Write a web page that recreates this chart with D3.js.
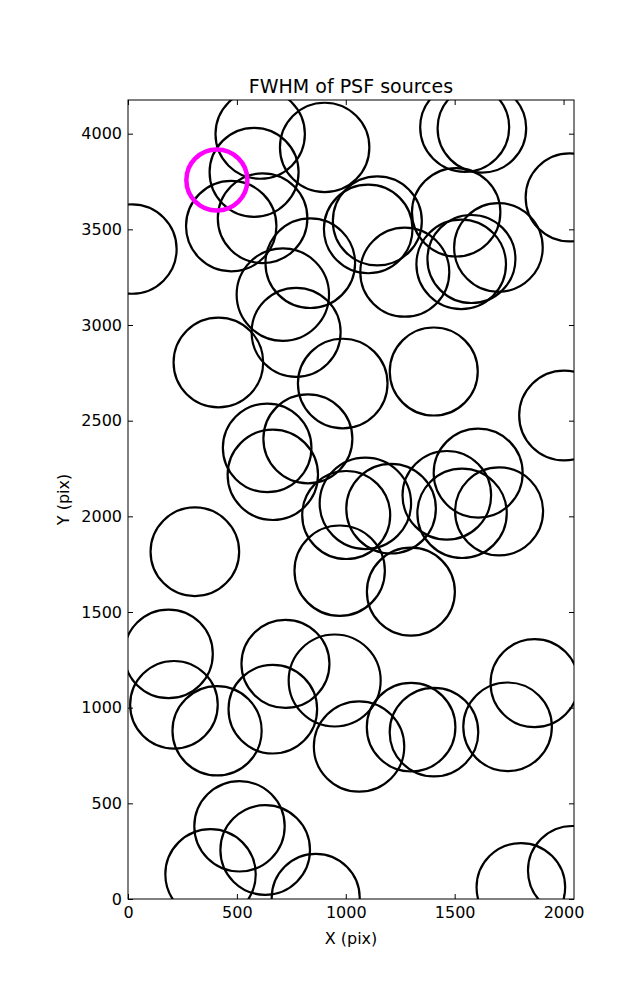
<!DOCTYPE html>
<html>
<head>
<meta charset="utf-8">
<script src="https://cdn.jsdelivr.net/npm/d3@7"></script>
<style>
  html, body { margin: 0; padding: 0; background: #fff; }
  svg { display: block; font-family: "DejaVu Sans", sans-serif; }
</style>
</head>
<body>
<svg id="chart" width="637" height="1000"></svg>
<script>
// Source positions (detector pixels) and FWHM values
const srcX = [607, 579, 903, 1546, 1625, 2028, 18, 474, 618, 1103, 1145, 1507, 1701, 1577, 1530, 1271, 837, 711, 772, 415, 986, 1404, 2002,
  639, 665, 826, 1090, 1002, 1208, 1464, 1608, 1534, 1704, 972, 1299, 307, 186, 723, 211, 409, 665, 949, 1061, 1300, 1405, 1743, 1867,
  512, 630, 379, 862, 1804, 2041];
const srcY = [3998, 3798, 3928, 4033, 4028, 3667, 3397, 3517, 3558, 3502, 3544, 3589, 3405, 3345, 3317, 3276, 3323, 3159, 2962, 2804, 2694, 2757, 2527,
  2358, 2217, 2405, 2068, 2007, 2040, 2110, 2226, 2016, 2026, 1716, 1606, 1815, 1281, 1229, 1015, 879, 992, 1142, 797, 898, 872, 900, 1128,
  380, 256, 129, 6, 61, 149];
const srcFWHM = [4.47, 4.45, 4.47, 4.45, 4.43, 4.40, 4.47, 4.52, 4.48, 4.43, 4.45, 4.42, 4.43, 4.40, 4.48, 4.45, 4.48, 4.62, 4.45, 4.48, 4.48, 4.40, 4.48,
  4.43, 4.52, 4.45, 4.57, 4.40, 4.48, 4.43, 4.45, 4.47, 4.40, 4.52, 4.40, 4.43, 4.43, 4.40, 4.38, 4.46, 4.43, 4.60, 4.52, 4.43, 4.43, 4.43, 4.40,
  4.52, 4.48, 4.52, 4.40, 4.43, 4.45];
// Highlighted source
const hiX = [408];
const hiY = [3758];
const hiFWHM = [3.05];

const xTicks = [0, 500, 1000, 1500, 2000];
const yTicks = [0, 500, 1000, 1500, 2000, 2500, 3000, 3500, 4000];
const titleText = "FWHM of PSF sources";
const xLabel = "X (pix)";
const yLabel = "Y (pix)";

const sources = srcX.map((d, i) => ({ x: d, y: srcY[i], f: srcFWHM[i] }));
const highlight = hiX.map((d, i) => ({ x: d, y: hiY[i], f: hiFWHM[i] }));

const L = 128, R = 574, T = 100, B = 899;
const x = d3.scaleLinear().domain([0, 2048]).range([L, R]);
const y = d3.scaleLinear().domain([0, 4176]).range([B, T]);
const r = d3.scaleLinear().domain([0, 10]).range([0, 100]);

const svg = d3.select("#chart");

svg.append("defs").append("clipPath").attr("id", "clip")
  .append("rect").attr("x", L).attr("y", T).attr("width", R - L).attr("height", B - T);

const g = svg.append("g").attr("clip-path", "url(#clip)");

g.selectAll("circle.src").data(sources).join("circle")
  .attr("class", "src")
  .attr("cx", d => x(d.x)).attr("cy", d => y(d.y)).attr("r", d => r(d.f))
  .attr("fill", "none").attr("stroke", "#000").attr("stroke-width", 2.2);

g.selectAll("circle.hi").data(highlight).join("circle")
  .attr("class", "hi")
  .attr("cx", d => x(d.x)).attr("cy", d => y(d.y)).attr("r", d => r(d.f))
  .attr("fill", "none").attr("stroke", "#ff00ff").attr("stroke-width", 4.5);

// Axes (inward ticks on all sides)
const tickLen = 5;
const fs = 16;
const axB = svg.append("g").attr("transform", `translate(0,${B})`)
  .call(d3.axisBottom(x).tickValues(xTicks).tickSize(-tickLen).tickPadding(8).tickFormat(d3.format("d")));
const axT = svg.append("g").attr("transform", `translate(0,${T})`)
  .call(d3.axisTop(x).tickValues(xTicks).tickSize(-tickLen).tickFormat(""));
const axL = svg.append("g").attr("transform", `translate(${L},0)`)
  .call(d3.axisLeft(y).tickValues(yTicks).tickSize(-tickLen).tickPadding(6).tickFormat(d3.format("d")));
const axR = svg.append("g").attr("transform", `translate(${R},0)`)
  .call(d3.axisRight(y).tickValues(yTicks).tickSize(-tickLen).tickFormat(""));

[axB, axT, axL, axR].forEach(a => {
  a.select(".domain").remove();
  a.selectAll(".tick line").attr("stroke", "#000").attr("stroke-width", 1);
  a.selectAll(".tick text").attr("fill", "#000").attr("font-size", fs).attr("font-family", "DejaVu Sans");
});

svg.append("rect").attr("x", L).attr("y", T).attr("width", R - L).attr("height", B - T)
  .attr("fill", "none").attr("stroke", "#000").attr("stroke-width", 1);

svg.append("text").attr("x", (L + R) / 2).attr("y", 93).attr("text-anchor", "middle")
  .attr("font-size", 19).attr("fill", "#000").text(titleText);
svg.append("text").attr("x", (L + R) / 2).attr("y", 944).attr("text-anchor", "middle")
  .attr("font-size", fs).attr("fill", "#000").text(xLabel);
svg.append("text").attr("transform", `translate(69,${(T + B) / 2}) rotate(-90)`).attr("text-anchor", "middle")
  .attr("font-size", fs).attr("fill", "#000").text(yLabel);
</script>
</body>
</html>
